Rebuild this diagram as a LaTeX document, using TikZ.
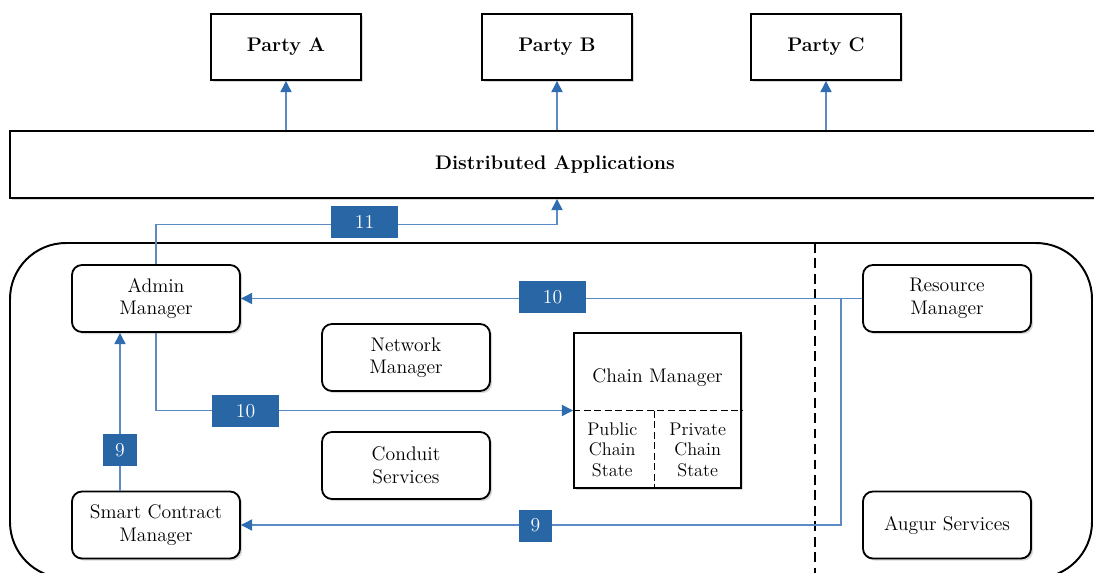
\documentclass[tikz,border=0pt]{standalone}
\usepackage{xcolor}
\usepackage{tikz}
\usetikzlibrary{arrows.meta,positioning,shapes,calc,shadows}

\definecolor{flowblue}{HTML}{5B8AC4}
\definecolor{tipblue}{HTML}{2F6CB0}
\definecolor{numblue}{HTML}{2866A6}

\begin{document}
\begin{tikzpicture}[
  x=0.025cm, y=-0.025cm,
  party/.style={rectangle, draw, line width=1.3pt, fill=white, minimum width=3.75cm, minimum height=1.65cm, font=\fontsize{14}{16}\selectfont\bfseries, drop shadow={shadow xshift=1.5pt, shadow yshift=-1.5pt, opacity=0.3}},
  module/.style={rectangle, rounded corners=0.25cm, draw, line width=1.3pt, fill=white, minimum width=4.2cm, minimum height=1.675cm, font=\fontsize{14}{16}\selectfont, align=center, drop shadow={shadow xshift=1.5pt, shadow yshift=-1.5pt, opacity=0.3}},
  num/.style={rectangle, fill=numblue, text=white, minimum width=1.675cm, minimum height=0.8cm, inner sep=0pt, font=\fontsize{14}{16}\selectfont},
  flow/.style={-{Triangle[width=8pt, length=8pt, color=tipblue]}, draw=flowblue, line width=0.8pt}
]
\clip (0,0) rectangle (1094,573);

% Parties
\node[party] (pa) at (286,47) {Party A};
\node[party] (pb) at (557,47) {Party B};
\node[party] (pc) at (826,47) {Party C};

% Applications layer
\node[rectangle, draw, line width=1.3pt, fill=white, minimum width=27.25cm, minimum height=1.675cm, font=\fontsize{14}{16}\selectfont\bfseries, drop shadow={shadow xshift=1.5pt, shadow yshift=-1.5pt, opacity=0.3}] (dapp) at (555,164.5) {Distributed Applications};

% Platform
\draw[line width=1.4pt, rounded corners=1.4cm] (10,243) rectangle (1092,578);
\draw[line width=1.2pt, dash pattern=on 7pt off 4pt] (815,243) -- (815,573);

% Modules
\node[module] (admin) at (156,298.5) {Admin\\Manager};
\node[module] (network) at (406,357.5) {Network\\Manager};
\node[module] (conduit) at (406,465.5) {Conduit\\Services};
\node[module] (contract) at (156,525) {Smart Contract\\Manager};
\node[module] (resource) at (947,298.5) {Resource\\Manager};
\node[module] (augur) at (947,525) {Augur Services};

% Chain manager
\node[rectangle, draw, line width=1.3pt, fill=white, minimum width=4.175cm, minimum height=3.875cm, drop shadow={shadow xshift=1.5pt, shadow yshift=-1.5pt, opacity=0.3}] (chain) at (657.5,410.5) {};
\draw[line width=1.3pt, dash pattern=on 5pt off 2.5pt] (chain.west) -- (chain.east);
\draw[line width=1.3pt, dash pattern=on 5pt off 2.5pt] ($(chain.center)+(-3,0)$) -- ($(chain.south)+(-3,0)$);
\node[font=\fontsize{14}{16}\selectfont] (chaintitle) at ($(chain.north)!0.5!(chain.center)+(0,6)$) {Chain Manager};
\node[font=\fontsize{13}{14.5}\selectfont, align=center] (public) at ($(chain.center)!0.5!(chain.south west)+(-3,0)$) {Public\\Chain\\State};
\node[font=\fontsize{13}{14.5}\selectfont, align=center] (private) at ($(chain.center)!0.5!(chain.south east)+(-2,0)$) {Private\\Chain\\State};

% Arrows to parties
\draw[flow] (dapp.north -| pa.south) -- (pa.south);
\draw[flow] (dapp.north -| pb.south) -- (pb.south);
\draw[flow] (dapp.north -| pc.south) -- (pc.south);

% Flows
\coordinate (dtarget) at ($(dapp.south)+(2,0)$);
\coordinate (tap) at (841,298.5);
\draw[flow] (admin.north) |- ($(dtarget)+(0,26)$) -- (dtarget);
\draw[flow] (resource.west) -- (admin.east);
\draw[flow] (tap) |- (contract.east);
\draw[flow] (admin.south) |- (chain.west);
\draw[flow] ($(contract.north)+(-36,0)$) -- ($(admin.south)+(-36,0)$);

% Step numbers
\node[num] (n11) at (364.5,222) {11};
\node[num] (n10a) at (552.5,297) {10};
\node[num] (n10b) at (245.5,411) {10};
\node[num, minimum width=0.825cm] (n9a) at (120,450) {9};
\node[num, minimum width=0.825cm] (n9b) at (535.5,525.5) {9};

\end{tikzpicture}
\end{document}
